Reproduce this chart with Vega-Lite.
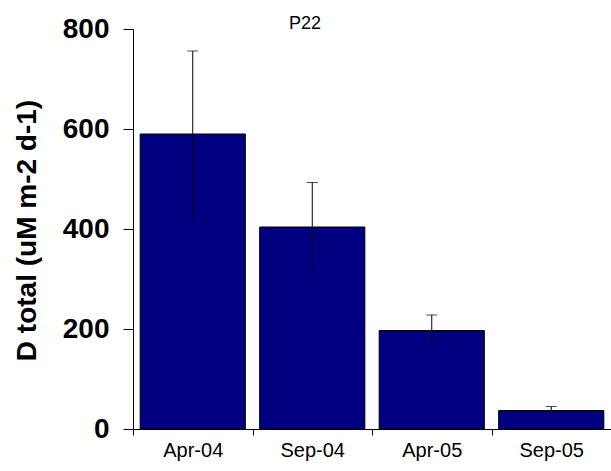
{
  "$schema": "https://vega.github.io/schema/vega-lite/v6.json",
  "width": 478,
  "height": 400,
  "autosize": {"type": "none"},
  "padding": {"left": 133, "top": 29, "right": 0, "bottom": 42},
  "background": "white",
  "title": {
    "text": "P22",
    "anchor": "middle",
    "dx": -67,
    "offset": -36,
    "baseline": "bottom",
    "font": "Liberation Sans",
    "fontSize": 18,
    "fontWeight": "normal",
    "color": "black"
  },
  "config": {
    "view": {"stroke": null},
    "axis": {"grid": false, "domainColor": "black", "tickColor": "black", "labelColor": "black", "titleColor": "black", "labelFont": "Liberation Sans", "titleFont": "Liberation Sans"}
  },
  "data": {
    "values": [
      {"period": "Apr-04", "value": 590, "lo": 422, "hi": 756},
      {"period": "Sep-04", "value": 404, "lo": 315, "hi": 493},
      {"period": "Apr-05", "value": 197, "lo": 163, "hi": 228},
      {"period": "Sep-05", "value": 37, "lo": 26, "hi": 45}
    ]
  },
  "encoding": {
    "x": {
      "field": "period",
      "type": "nominal",
      "sort": null,
      "scale": {"paddingInner": 0, "paddingOuter": 0},
      "axis": {
        "title": null,
        "labelAngle": 0,
        "labelFontSize": 20,
        "labelPadding": 5,
        "tickBand": "extent",
        "tickSize": 6,
        "domainWidth": 1
      }
    }
  },
  "layer": [
    {
      "mark": {"type": "bar", "width": {"band": 0.88}, "fill": "#000080", "stroke": "black", "strokeWidth": 1},
      "encoding": {
        "y": {
          "field": "value",
          "type": "quantitative",
          "scale": {"domain": [0, 800], "nice": false},
          "axis": {
            "title": "D total (uM m-2 d-1)",
            "titleFontSize": 28,
            "titleFontWeight": "bold",
            "titleX": -106,
            "titleY": 201,
            "titleAngle": -90,
            "titleAlign": "center",
            "titleBaseline": "middle",
            "values": [0, 200, 400, 600, 800],
            "labelFontSize": 28,
            "labelFontWeight": "bold",
            "labelPadding": 14,
            "tickSize": 10,
            "domainWidth": 1
          }
        }
      }
    },
    {
      "mark": {"type": "rule", "color": "black", "strokeWidth": 1},
      "encoding": {
        "y": {"field": "lo", "type": "quantitative"},
        "y2": {"field": "hi"}
      }
    },
    {
      "mark": {"type": "tick", "color": "black", "thickness": 1, "size": 11, "orient": "horizontal"},
      "encoding": {
        "y": {"field": "hi", "type": "quantitative"}
      }
    }
  ]
}
